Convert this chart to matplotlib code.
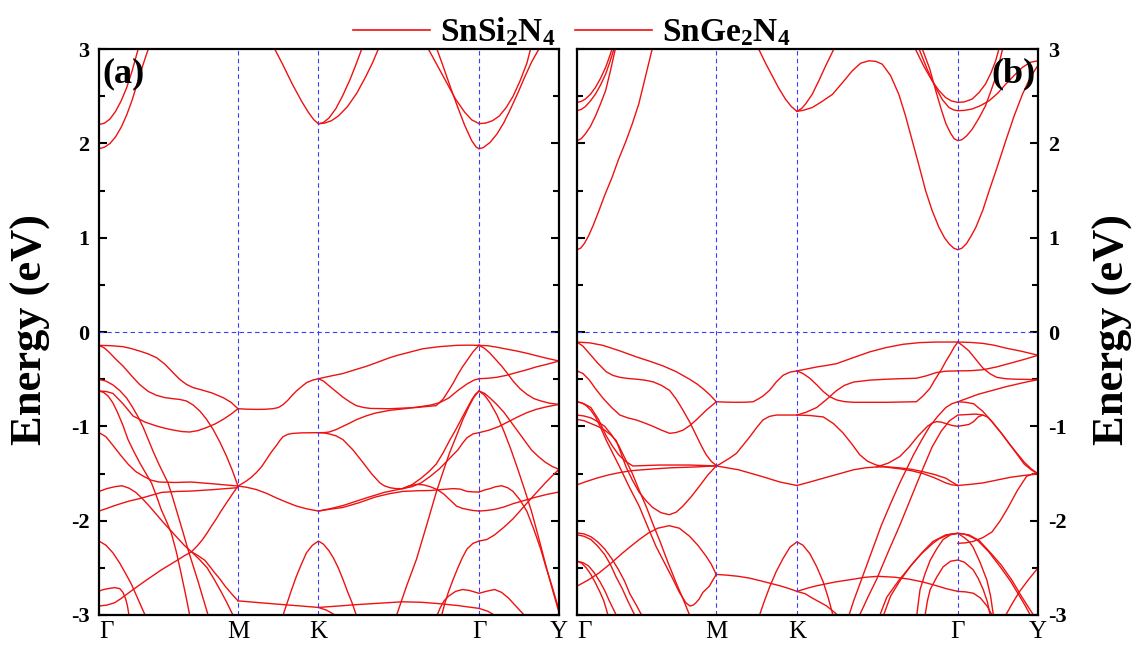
import numpy as np
import matplotlib.pyplot as plt
from matplotlib.lines import Line2D
from matplotlib.ticker import MultipleLocator

plt.rcParams['font.family'] = 'Liberation Serif'
plt.rcParams['mathtext.fontset'] = 'custom'
plt.rcParams['mathtext.rm'] = 'Liberation Serif'
plt.rcParams['mathtext.bf'] = 'Liberation Serif:bold'
plt.rcParams['axes.unicode_minus'] = False

# high-symmetry points along the path (fraction of path length)
kpts = [0.0, 0.302, 0.477, 0.826, 1.0]
klabels = ['Γ', 'M', 'K', 'Γ', 'Y']

# ---- (a) SnSi2N4 : bands as (k, E) ----
snsi_cond = [
    [(0, 2.20), (.012, 2.215), (.024, 2.26), (.036, 2.34), (.048, 2.45), (.060, 2.59),
     (.072, 2.77), (.085, 3.0)],
    [(0, 1.944), (.012, 1.96), (.024, 2.00), (.036, 2.07), (.048, 2.17), (.060, 2.30),
     (.072, 2.46), (.084, 2.65), (.096, 2.84), (.107, 3.0)],
    [(.382, 3.0), (.40, 2.83), (.42, 2.63), (.44, 2.45), (.455, 2.33), (.467, 2.25),
     (.477, 2.208)],
    [(.477, 2.208), (.487, 2.22), (.50, 2.27), (.515, 2.37), (.53, 2.51), (.545, 2.67),
     (.558, 2.83), (.571, 3.0)],
    [(.477, 2.208), (.49, 2.215), (.505, 2.24), (.52, 2.29), (.54, 2.39), (.56, 2.53),
     (.58, 2.71), (.595, 2.86), (.607, 3.0)],
    [(.716, 3.0), (.735, 2.83), (.755, 2.65), (.775, 2.47), (.795, 2.33), (.81, 2.25),
     (.826, 2.21)],
    [(.7345, 3.0), (.75, 2.79), (.765, 2.58), (.78, 2.38), (.795, 2.19), (.81, 2.03),
     (.82, 1.96), (.826, 1.944)],
    [(.826, 1.944), (.835, 1.955), (.85, 2.01), (.865, 2.10), (.88, 2.22), (.895, 2.37),
     (.91, 2.53), (.925, 2.70), (.94, 2.86), (.956, 3.0)],
    [(.826, 2.21), (.84, 2.215), (.855, 2.24), (.87, 2.29), (.885, 2.38), (.90, 2.50),
     (.915, 2.66), (.93, 2.85), (.938, 3.0)],
]

snsi_val = [
    # Gamma -> M
    [(0, -.141), (.026, -.145), (.052, -.155), (.07, -.175), (.088, -.201), (.107, -.232),
     (.125, -.272), (.143, -.34), (.161, -.431), (.175, -.50), (.190, -.555), (.205, -.59),
     (.219, -.608), (.245, -.645), (.270, -.696), (.287, -.745), (.302, -.813)],
    [(0, -.141), (.012, -.17), (.023, -.219), (.037, -.29), (.052, -.360), (.07, -.46),
     (.088, -.555), (.107, -.63), (.125, -.671), (.143, -.695), (.161, -.707), (.176, -.715),
     (.190, -.731), (.205, -.775), (.219, -.837), (.233, -.92), (.248, -1.032), (.262, -1.16),
     (.277, -1.315), (.29, -1.47), (.302, -1.633)],
    [(0, -.625), (.015, -.63), (.030, -.650), (.052, -.76), (.074, -.890), (.10, -.955),
     (.125, -.996), (.143, -1.02), (.161, -1.039), (.18, -1.055), (.197, -1.06), (.215, -1.045),
     (.233, -1.014), (.252, -.975), (.270, -.926), (.287, -.87), (.302, -.813)],
    [(0, -.502), (.015, -.52), (.03, -.56), (.045, -.62), (.06, -.70), (.072, -.79),
     (.085, -.90), (.096, -1.01), (.107, -1.14), (.118, -1.27), (.130, -1.40), (.140, -1.50),
     (.150, -1.60), (.161, -1.77), (.172, -1.95), (.183, -2.13), (.193, -2.30), (.204, -2.47),
     (.215, -2.64), (.226, -2.82), (.237, -3.0)],
    [(0, -.625), (.01, -.64), (.02, -.68), (.03, -.75), (.04, -.85), (.052, -.99),
     (.063, -1.14), (.076, -1.27), (.09, -1.40), (.102, -1.50), (.114, -1.60), (.125, -1.74),
     (.135, -1.88), (.146, -2.00), (.157, -2.13), (.168, -2.33), (.178, -2.55), (.188, -2.78),
     (.197, -3.0)],
    [(0, -1.067), (.015, -1.11), (.03, -1.20), (.046, -1.30), (.063, -1.40), (.08, -1.48),
     (.097, -1.53), (.113, -1.57), (.130, -1.59), (.165, -1.595), (.2, -1.59), (.25, -1.61),
     (.302, -1.633)],
    [(0, -1.69), (.017, -1.66), (.034, -1.64), (.05, -1.63), (.065, -1.655), (.08, -1.70),
     (.095, -1.77), (.11, -1.85), (.125, -1.935), (.14, -2.02), (.155, -2.10), (.17, -2.18),
     (.185, -2.26), (.201, -2.33), (.213, -2.27), (.225, -2.20), (.235, -2.13), (.244, -2.06),
     (.255, -1.98), (.265, -1.90), (.280, -1.79), (.291, -1.71), (.302, -1.633)],
    [(0, -1.898), (.017, -1.87), (.034, -1.84), (.05, -1.815), (.067, -1.79), (.085, -1.77),
     (.10, -1.75), (.118, -1.725), (.136, -1.70), (.17, -1.69), (.2, -1.686), (.25, -1.67),
     (.302, -1.65)],
    [(0, -2.905), (.017, -2.895), (.034, -2.87), (.048, -2.825), (.063, -2.77), (.08, -2.71),
     (.10, -2.64), (.118, -2.58), (.136, -2.52), (.153, -2.47), (.17, -2.42), (.186, -2.37),
     (.201, -2.33), (.215, -2.37), (.23, -2.42), (.24, -2.48), (.251, -2.55), (.263, -2.62),
     (.275, -2.70), (.289, -2.78), (.302, -2.85)],
    [(.201, -2.33), (.218, -2.41), (.235, -2.50), (.25, -2.62), (.265, -2.75), (.278, -2.87),
     (.291, -3.0)],
    [(0, -2.746), (.01, -2.73), (.02, -2.72), (.034, -2.71), (.045, -2.72), (.052, -2.76),
     (.058, -2.83), (.062, -2.91), (.065, -3.0)],
    [(0, -2.216), (.015, -2.26), (.03, -2.34), (.045, -2.45), (.06, -2.58), (.07, -2.67),
     (.08, -2.78), (.09, -2.89), (.10, -3.0)],
    # M -> K
    [(.302, -.813), (.322, -.818), (.342, -.820), (.36, -.819), (.378, -.813), (.39, -.80),
     (.40, -.77), (.41, -.725), (.42, -.67), (.429, -.625), (.44, -.58), (.451, -.537),
     (.464, -.51), (.477, -.495)],
    [(.302, -1.633), (.31, -1.61), (.32, -1.58), (.331, -1.54), (.342, -1.49), (.353, -1.43),
     (.364, -1.35), (.375, -1.27), (.386, -1.20), (.393, -1.15), (.40, -1.11), (.41, -1.085),
     (.42, -1.075), (.44, -1.069), (.477, -1.067)],
    [(.302, -1.633), (.32, -1.645), (.342, -1.67), (.364, -1.71), (.386, -1.76), (.408, -1.805),
     (.429, -1.845), (.452, -1.875), (.477, -1.898)],
    [(.302, -2.85), (.35, -2.87), (.40, -2.89), (.44, -2.905), (.477, -2.92)],
    [(.40, -3.0), (.407, -2.90), (.418, -2.74), (.429, -2.59), (.44, -2.46), (.451, -2.34),
     (.464, -2.26), (.477, -2.216), (.488, -2.25), (.50, -2.32), (.51, -2.40), (.52, -2.50),
     (.53, -2.62), (.54, -2.75), (.55, -2.87), (.559, -3.0)],
    [(.477, -2.92), (.495, -2.95), (.513, -3.0)],
    # K -> Gamma
    [(.477, -.495), (.50, -.47), (.53, -.44), (.559, -.396), (.58, -.365), (.60, -.33),
     (.632, -.272), (.65, -.245), (.67, -.22), (.704, -.177), (.74, -.155), (.777, -.141),
     (.80, -.139), (.826, -.141)],
    [(.477, -.495), (.488, -.52), (.50, -.57), (.515, -.63), (.53, -.69), (.545, -.74),
     (.559, -.78), (.575, -.80), (.59, -.81), (.632, -.813), (.69, -.80), (.733, -.78),
     (.748, -.71), (.76, -.62), (.77, -.54), (.78, -.45), (.79, -.37), (.80, -.30),
     (.813, -.21), (.826, -.141)],
    [(.477, -1.067), (.49, -1.066), (.50, -1.06), (.515, -1.035), (.53, -1.0), (.545, -.965),
     (.559, -.93), (.58, -.89), (.60, -.86), (.632, -.83), (.67, -.81), (.70, -.79),
     (.72, -.775), (.74, -.75), (.76, -.70), (.78, -.62), (.80, -.55), (.815, -.51),
     (.826, -.495)],
    [(.477, -1.067), (.49, -1.07), (.50, -1.08), (.515, -1.10), (.53, -1.14), (.552, -1.25),
     (.574, -1.385), (.592, -1.50), (.61, -1.597), (.62, -1.63), (.632, -1.65), (.645, -1.66),
     (.66, -1.66), (.68, -1.64), (.70, -1.60), (.72, -1.53), (.74, -1.45), (.76, -1.35),
     (.78, -1.25), (.79, -1.18), (.80, -1.12), (.813, -1.08), (.826, -1.067)],
    [(.477, -1.898), (.505, -1.87), (.53, -1.84), (.555, -1.80), (.58, -1.76), (.60, -1.73),
     (.62, -1.70), (.64, -1.68), (.66, -1.66), (.68, -1.62), (.70, -1.55), (.717, -1.48),
     (.733, -1.40), (.748, -1.28), (.762, -1.15), (.776, -1.03), (.79, -.90), (.80, -.81),
     (.81, -.72), (.818, -.66), (.826, -.625)],
    [(.647, -3.0), (.668, -2.70), (.69, -2.41), (.712, -2.05), (.733, -1.70), (.748, -1.48),
     (.762, -1.28), (.777, -1.10), (.791, -.926), (.805, -.78), (.815, -.69), (.826, -.625)],
    [(.477, -1.898), (.50, -1.88), (.53, -1.86), (.565, -1.81), (.60, -1.75), (.63, -1.715),
     (.66, -1.69), (.69, -1.683), (.72, -1.68), (.745, -1.67), (.77, -1.66), (.785, -1.665),
     (.80, -1.69), (.813, -1.695), (.826, -1.696)],
    [(.66, -1.66), (.675, -1.63), (.69, -1.615), (.705, -1.62), (.72, -1.64), (.735, -1.67),
     (.75, -1.72), (.765, -1.79), (.777, -1.845), (.79, -1.87), (.80, -1.88), (.813, -1.892),
     (.826, -1.898)],
    [(.477, -2.92), (.52, -2.905), (.56, -2.89), (.61, -2.875), (.66, -2.86), (.70, -2.865),
     (.74, -2.88), (.78, -2.90), (.826, -2.93)],
    [(.745, -3.0), (.752, -2.87), (.76, -2.75), (.77, -2.62), (.78, -2.50), (.79, -2.39),
     (.80, -2.30), (.813, -2.24), (.826, -2.216)],
    [(.735, -3.0), (.742, -2.92), (.75, -2.85), (.76, -2.80), (.775, -2.75), (.79, -2.73),
     (.805, -2.74), (.826, -2.77), (.845, -2.745), (.86, -2.73), (.875, -2.76), (.89, -2.82),
     (.905, -2.90), (.924, -3.0)],
    # Gamma -> Y
    [(.826, -.141), (.845, -.145), (.864, -.16), (.885, -.18), (.907, -.20), (.93, -.225),
     (.95, -.25), (.975, -.28), (1.0, -.307)],
    [(.826, -.141), (.837, -.17), (.849, -.22), (.862, -.29), (.875, -.36), (.888, -.44),
     (.90, -.52), (.915, -.60), (.93, -.66), (.945, -.705), (.96, -.73), (.98, -.755),
     (1.0, -.767)],
    [(.826, -.495), (.845, -.49), (.864, -.48), (.885, -.46), (.907, -.43), (.93, -.40),
     (.95, -.37), (.975, -.34), (1.0, -.307)],
    [(.826, -.625), (.838, -.65), (.85, -.70), (.865, -.77), (.88, -.85), (.895, -.95),
     (.91, -1.05), (.925, -1.15), (.94, -1.25), (.955, -1.32), (.97, -1.38), (.985, -1.425),
     (1.0, -1.456)],
    [(.826, -1.067), (.848, -1.04), (.87, -1.0), (.89, -.95), (.91, -.90), (.93, -.855),
     (.95, -.82), (.975, -.79), (1.0, -.767)],
    [(.826, -.625), (.838, -.67), (.85, -.75), (.865, -.88), (.88, -1.05), (.895, -1.24),
     (.91, -1.45), (.925, -1.67), (.94, -1.90), (.955, -2.17), (.97, -2.45), (.985, -2.72),
     (1.0, -2.975)],
    [(.826, -1.696), (.838, -1.675), (.85, -1.66), (.862, -1.64), (.875, -1.63), (.888, -1.65),
     (.90, -1.69), (.915, -1.78), (.93, -1.90), (.945, -2.09), (.96, -2.30), (.972, -2.50),
     (.985, -2.70), (1.0, -2.95)],
    [(.826, -1.898), (.843, -1.892), (.86, -1.88), (.88, -1.855), (.90, -1.82), (.925, -1.785),
     (.95, -1.75), (.975, -1.72), (1.0, -1.696)],
    [(.826, -2.216), (.843, -2.20), (.86, -2.15), (.88, -2.07), (.90, -1.98), (.92, -1.87),
     (.94, -1.76), (.955, -1.68), (.97, -1.60), (.985, -1.525), (1.0, -1.456)],
    [(.826, -2.93), (.845, -2.96), (.859, -3.0)],
]

# ---- (b) SnGe2N4 ----
snge_cond = [
    [(0, .872), (.008, .89), (.016, .94), (.025, 1.02), (.035, 1.13), (.047, 1.28),
     (.06, 1.45), (.076, 1.64), (.09, 1.83), (.105, 2.01), (.12, 2.21), (.134, 2.42),
     (.148, 2.70), (.163, 3.0)],
    [(0, 2.029), (.009, 2.05), (.018, 2.10), (.029, 2.18), (.04, 2.29), (.051, 2.42),
     (.062, 2.56), (.072, 2.76), (.083, 3.0)],
    [(0, 2.347), (.009, 2.36), (.018, 2.39), (.029, 2.45), (.04, 2.523), (.051, 2.62),
     (.062, 2.735), (.071, 2.86), (.080, 3.0)],
    [(0, 2.435), (.009, 2.445), (.018, 2.47), (.029, 2.52), (.04, 2.594), (.051, 2.69),
     (.062, 2.806), (.069, 2.90), (.076, 3.0)],
    [(.394, 3.0), (.41, 2.84), (.423, 2.72), (.437, 2.59), (.452, 2.47), (.465, 2.39),
     (.477, 2.34)],
    [(.477, 2.34), (.487, 2.37), (.496, 2.42), (.51, 2.52), (.525, 2.67), (.54, 2.83),
     (.557, 3.0)],
    [(.477, 2.34), (.49, 2.35), (.51, 2.38), (.53, 2.44), (.554, 2.52), (.575, 2.64),
     (.597, 2.77), (.615, 2.85), (.633, 2.876), (.648, 2.87), (.662, 2.84), (.68, 2.72),
     (.698, 2.52), (.712, 2.30), (.727, 2.03), (.742, 1.76), (.756, 1.50), (.77, 1.29),
     (.785, 1.11), (.797, 1.00), (.807, .935), (.817, .89), (.826, .872), (.835, .89),
     (.845, .94), (.855, 1.02), (.865, 1.11), (.88, 1.29), (.894, 1.50), (.91, 1.73),
     (.930, 2.03), (.948, 2.29), (.966, 2.52), (.983, 2.70), (1.0, 2.83)],
    [(.734, 3.0), (.752, 2.82), (.770, 2.665), (.785, 2.56), (.799, 2.488), (.812, 2.45),
     (.826, 2.435), (.84, 2.44), (.857, 2.47), (.872, 2.54), (.886, 2.63), (.898, 2.75),
     (.908, 2.876), (.915, 3.0)],
    [(.742, 3.0), (.76, 2.78), (.778, 2.59), (.793, 2.46), (.807, 2.38), (.817, 2.355),
     (.826, 2.347), (.84, 2.35), (.857, 2.365), (.875, 2.40), (.894, 2.453), (.912, 2.53),
     (.930, 2.629), (.948, 2.72), (.966, 2.806), (.983, 2.86), (1.0, 2.876)],
    [(.749, 3.0), (.765, 2.79), (.778, 2.56), (.79, 2.36), (.80, 2.21), (.81, 2.11),
     (.818, 2.05), (.826, 2.029), (.835, 2.04), (.845, 2.08), (.857, 2.15), (.872, 2.27),
     (.886, 2.40), (.898, 2.56), (.908, 2.70), (.923, 3.0)],
]

snge_val = [
    # Gamma -> M
    [(0, -.106), (.028, -.115), (.056, -.141), (.093, -.20), (.129, -.264), (.158, -.31),
     (.187, -.36), (.215, -.42), (.244, -.50), (.26, -.55), (.273, -.60), (.288, -.665),
     (.302, -.739)],
    [(0, -.106), (.013, -.15), (.027, -.229), (.045, -.33), (.063, -.42), (.078, -.46),
     (.093, -.48), (.11, -.492), (.129, -.50), (.147, -.51), (.165, -.528), (.183, -.565),
     (.201, -.62), (.215, -.71), (.230, -.83), (.245, -.96), (.259, -1.10), (.27, -1.21),
     (.280, -1.30), (.291, -1.37), (.302, -1.415)],
    [(0, -.412), (.013, -.44), (.027, -.511), (.04, -.60), (.056, -.70), (.075, -.80),
     (.093, -.880), (.11, -.91), (.129, -.933), (.147, -.965), (.165, -1.00), (.183, -1.04),
     (.201, -1.074), (.215, -1.065), (.230, -1.04), (.245, -.99), (.259, -.93), (.28, -.83),
     (.302, -.739)],
    [(0, -.739), (.01, -.75), (.02, -.78), (.03, -.83), (.04, -.90), (.052, -1.02),
     (.063, -1.144), (.078, -1.29), (.092, -1.426), (.113, -1.64), (.135, -1.849),
     (.153, -2.06), (.171, -2.27), (.19, -2.45), (.208, -2.62), (.222, -2.76), (.236, -2.87),
     (.245, -2.905), (.252, -2.895), (.258, -2.87), (.265, -2.83), (.273, -2.76),
     (.287, -2.694), (.302, -2.57)],
    [(0, -.739), (.015, -.76), (.03, -.80), (.047, -.93), (.063, -1.10), (.077, -1.21),
     (.09, -1.30), (.105, -1.37), (.121, -1.42), (.15, -1.415), (.179, -1.41), (.244, -1.41),
     (.302, -1.419)],
    [(0, -.88), (.015, -.89), (.03, -.91), (.045, -.95), (.06, -1.0), (.075, -1.09),
     (.09, -1.20), (.105, -1.35), (.12, -1.50), (.135, -1.68), (.15, -1.85), (.165, -2.04),
     (.18, -2.22), (.197, -2.44), (.215, -2.66), (.23, -2.83), (.244, -3.0)],
    [(0, -.926), (.015, -.94), (.03, -.97), (.045, -1.00), (.06, -1.04), (.073, -1.09),
     (.085, -1.15), (.095, -1.28), (.106, -1.426), (.12, -1.57), (.135, -1.70), (.15, -1.79),
     (.164, -1.86), (.182, -1.915), (.200, -1.937), (.215, -1.91), (.229, -1.849),
     (.247, -1.75), (.265, -1.637), (.283, -1.52), (.302, -1.419)],
    [(0, -1.62), (.02, -1.585), (.042, -1.55), (.068, -1.515), (.093, -1.49), (.118, -1.47),
     (.143, -1.46), (.17, -1.45), (.201, -1.44), (.23, -1.435), (.259, -1.43), (.302, -1.419)],
    [(0, -2.694), (.024, -2.63), (.048, -2.553), (.074, -2.45), (.099, -2.342), (.117, -2.27),
     (.135, -2.20), (.155, -2.13), (.175, -2.08), (.200, -2.053), (.222, -2.08),
     (.244, -2.165), (.262, -2.26), (.280, -2.377), (.291, -2.46), (.302, -2.57)],
    [(0, -2.13), (.015, -2.14), (.03, -2.17), (.045, -2.225), (.06, -2.30), (.075, -2.40),
     (.09, -2.52), (.103, -2.64), (.115, -2.78), (.128, -2.89), (.14, -3.0)],
    [(0, -2.15), (.015, -2.165), (.03, -2.20), (.045, -2.27), (.06, -2.36), (.073, -2.47),
     (.085, -2.60), (.098, -2.72), (.11, -2.85), (.125, -3.0)],
    [(0, -2.43), (.013, -2.445), (.025, -2.48), (.037, -2.55), (.05, -2.65), (.06, -2.74),
     (.07, -2.85), (.078, -2.93), (.085, -3.0)],
    [(0, -2.43), (.01, -2.45), (.02, -2.50), (.03, -2.57), (.04, -2.66), (.05, -2.76),
     (.058, -2.85), (.063, -2.93), (.067, -3.0)],
    # M -> K
    [(.302, -.739), (.324, -.743), (.346, -.745), (.365, -.744), (.382, -.739), (.393, -.71),
     (.403, -.68), (.41, -.65), (.418, -.616), (.432, -.53), (.447, -.458), (.462, -.425),
     (.477, -.412)],
    [(.302, -1.419), (.31, -1.40), (.32, -1.37), (.333, -1.33), (.346, -1.285), (.36, -1.20),
     (.375, -1.109), (.39, -1.01), (.403, -.933), (.417, -.895), (.432, -.880), (.455, -.88),
     (.477, -.880)],
    [(.302, -1.419), (.326, -1.44), (.35, -1.46), (.375, -1.495), (.40, -1.53), (.42, -1.56),
     (.44, -1.59), (.46, -1.61), (.477, -1.627)],
    [(.302, -2.57), (.326, -2.578), (.35, -2.59), (.375, -2.61), (.40, -2.64), (.42, -2.665),
     (.44, -2.69), (.46, -2.72), (.477, -2.75)],
    [(.396, -3.0), (.405, -2.87), (.418, -2.70), (.432, -2.54), (.447, -2.40), (.462, -2.28),
     (.477, -2.225), (.49, -2.26), (.505, -2.35), (.52, -2.49), (.534, -2.65), (.545, -2.82),
     (.555, -3.0)],
    [(.477, -2.75), (.495, -2.775), (.51, -2.82), (.525, -2.86), (.54, -2.90), (.553, -2.95),
     (.565, -3.0)],
    # K -> Gamma
    [(.477, -.412), (.50, -.39), (.52, -.37), (.54, -.355), (.563, -.335), (.6, -.27),
     (.635, -.21), (.67, -.165), (.707, -.13), (.743, -.112), (.779, -.106), (.826, -.106)],
    [(.477, -.412), (.49, -.44), (.505, -.49), (.52, -.56), (.534, -.63), (.548, -.685),
     (.563, -.72), (.58, -.738), (.60, -.745), (.671, -.745), (.736, -.739), (.75, -.68),
     (.765, -.60), (.777, -.50), (.79, -.40), (.80, -.31), (.81, -.23), (.818, -.16),
     (.826, -.106)],
    [(.477, -.880), (.497, -.85), (.52, -.80), (.54, -.72), (.563, -.62), (.58, -.565),
     (.60, -.53), (.635, -.51), (.671, -.50), (.70, -.495), (.736, -.49), (.757, -.465),
     (.779, -.43), (.80, -.415), (.826, -.412)],
    [(.477, -.880), (.505, -.885), (.534, -.90), (.556, -.97), (.577, -1.07), (.595, -1.18),
     (.613, -1.30), (.63, -1.37), (.649, -1.41), (.675, -1.435), (.70, -1.45), (.725, -1.47),
     (.75, -1.50), (.775, -1.545), (.80, -1.60), (.813, -1.62), (.826, -1.627)],
    [(.477, -1.627), (.505, -1.59), (.534, -1.55), (.567, -1.505), (.60, -1.46), (.625, -1.44),
     (.65, -1.43), (.675, -1.43), (.70, -1.44), (.725, -1.455), (.75, -1.48), (.775, -1.51),
     (.80, -1.55), (.813, -1.59), (.826, -1.627)],
    [(.59, -3.0), (.60, -2.85), (.615, -2.65), (.63, -2.45), (.645, -2.25), (.66, -2.05),
     (.68, -1.82), (.70, -1.60), (.715, -1.45), (.73, -1.30), (.748, -1.14), (.765, -1.00),
     (.783, -.89), (.80, -.80), (.813, -.76), (.826, -.739)],
    [(.613, -3.0), (.632, -2.80), (.65, -2.62), (.675, -2.33), (.70, -2.05), (.725, -1.75),
     (.75, -1.45), (.77, -1.22), (.79, -1.05), (.808, -.94), (.826, -.88), (.845, -.875),
     (.865, -.87), (.88, -.88)],
    [(.65, -1.43), (.675, -1.39), (.70, -1.32), (.72, -1.22), (.74, -1.10), (.76, -1.00),
     (.77, -.965), (.78, -.95), (.79, -.955), (.80, -.97), (.813, -.99), (.826, -1.0)],
    [(.477, -2.75), (.50, -2.715), (.52, -2.69), (.56, -2.65), (.60, -2.62), (.625, -2.60),
     (.653, -2.59), (.69, -2.60), (.72, -2.62), (.75, -2.65), (.78, -2.69), (.80, -2.72),
     (.826, -2.75)],
    [(.657, -3.0), (.672, -2.81), (.697, -2.64), (.722, -2.49), (.747, -2.35), (.772, -2.24),
     (.786, -2.19), (.80, -2.16), (.813, -2.14), (.826, -2.134), (.838, -2.14), (.85, -2.16),
     (.868, -2.205), (.893, -2.33), (.918, -2.49), (.94, -2.64), (.961, -2.81), (.972, -2.90),
     (.983, -3.0)],
    [(.665, -3.0), (.68, -2.80), (.70, -2.64), (.725, -2.47), (.75, -2.33), (.772, -2.22),
     (.80, -2.15), (.826, -2.134), (.85, -2.15), (.872, -2.21), (.895, -2.33), (.92, -2.47),
     (.943, -2.63), (.965, -2.81), (.978, -2.91), (.99, -3.0)],
    [(.737, -3.0), (.74, -2.88), (.744, -2.73), (.755, -2.56), (.766, -2.42), (.78, -2.30),
     (.794, -2.2), (.81, -2.15), (.826, -2.134), (.84, -2.18), (.85, -2.22), (.859, -2.28),
     (.874, -2.44), (.889, -2.63), (.897, -2.80), (.903, -3.0)],
    [(.755, -3.0), (.76, -2.85), (.766, -2.73), (.78, -2.60), (.794, -2.49), (.81, -2.43),
     (.826, -2.417), (.84, -2.44), (.859, -2.52), (.87, -2.61), (.881, -2.73), (.89, -2.86),
     (.896, -3.0)],
    # Gamma -> Y
    [(.826, -.106), (.853, -.11), (.88, -.12), (.905, -.14), (.93, -.17), (.965, -.205),
     (1.0, -.246)],
    [(.826, -.106), (.838, -.15), (.85, -.20), (.865, -.29), (.88, -.38), (.895, -.44),
     (.91, -.48), (.93, -.495), (.95, -.50), (1.0, -.504)],
    [(.826, -.412), (.853, -.41), (.88, -.40), (.91, -.37), (.94, -.33), (.97, -.29),
     (1.0, -.246)],
    [(.826, -.739), (.843, -.745), (.86, -.76), (.88, -.84), (.90, -.95), (.92, -1.07),
     (.94, -1.20), (.955, -1.30), (.97, -1.40), (.985, -1.46), (1.0, -1.504)],
    [(.826, -.739), (.848, -.70), (.87, -.66), (.90, -.62), (.93, -.58), (.965, -.54),
     (1.0, -.504)],
    [(.826, -1.0), (.838, -.99), (.85, -.98), (.86, -.95), (.87, -.90), (.88, -.88),
     (.89, -.90), (.90, -.95), (.92, -1.07), (.94, -1.20), (.955, -1.29), (.97, -1.38),
     (.985, -1.45), (1.0, -1.504)],
    [(.826, -1.627), (.853, -1.615), (.88, -1.60), (.91, -1.57), (.94, -1.54), (.97, -1.52),
     (1.0, -1.504)],
    [(.826, -2.24), (.843, -2.235), (.859, -2.22), (.88, -2.18), (.90, -2.12), (.918, -2.00),
     (.935, -1.86), (.955, -1.68), (.975, -1.53), (.99, -1.50), (1.0, -1.504)],
    [(.826, -2.75), (.843, -2.755), (.86, -2.77), (.875, -2.82), (.89, -2.91), (.90, -3.0)],
    [(.93, -3.0), (.945, -2.87), (.96, -2.75), (.98, -2.62), (1.0, -2.50)],
]

red = '#ee1111'
grid_blue = '#3b3bff'

fig = plt.figure(figsize=(11.37, 6.46), dpi=100)
ax_a = fig.add_axes([0.0871, 0.048, 0.4046, 0.876])
ax_b = fig.add_axes([0.5075, 0.048, 0.4055, 0.876])


def draw_panel(ax, cond, val, tag, tag_x, tag_ha, side):
    for band in cond + val:
        b = np.array(band)
        ax.plot(b[:, 0], b[:, 1], color=red, lw=1.0, solid_joinstyle='round')
    for k in kpts[1:-1]:
        ax.axvline(k, color=grid_blue, lw=0.8, ls=(0, (4, 3)))
    ax.axhline(0, color=grid_blue, lw=0.8, ls=(0, (4, 3)))
    ax.set_xlim(0, 1)
    ax.set_ylim(-3, 3)
    ax.set_xticks(kpts)
    ax.set_xticklabels(klabels, fontsize=18)
    ax.get_xticklabels()[0].set_horizontalalignment('left')
    ax.tick_params(axis='x', length=0, pad=4)
    ax.yaxis.set_major_locator(MultipleLocator(1))
    ax.yaxis.set_minor_locator(MultipleLocator(0.5))
    ax.tick_params(axis='y', which='both', direction='in', left=True, right=True,
                   width=1.5, labelsize=16, pad=7,
                   labelleft=(side == 'left'), labelright=(side == 'right'))
    ax.tick_params(axis='y', which='major', length=6)
    ax.tick_params(axis='y', which='minor', length=4)
    for lab in ax.get_yticklabels():
        lab.set_fontweight('bold')
    for s in ax.spines.values():
        s.set_linewidth(1.6)
    ax.text(tag_x, 0.985, tag, transform=ax.transAxes, ha=tag_ha, va='top',
            fontsize=26, fontweight='bold')


draw_panel(ax_a, snsi_cond, snsi_val, '(a)', 0.008, 'left', 'left')
draw_panel(ax_b, snge_cond, snge_val, '(b)', 0.995, 'right', 'right')

fig.text(0.027, 0.49, 'Energy (eV)', rotation=90, ha='center', va='center',
         fontsize=32, fontweight='bold')
fig.text(0.979, 0.49, 'Energy (eV)', rotation=90, ha='center', va='center',
         fontsize=32, fontweight='bold')

handles = [Line2D([], [], color=red, lw=1.2), Line2D([], [], color=red, lw=1.2)]
fig.legend(handles, [r'$\mathbf{SnSi_2N_4}$', r'$\mathbf{SnGe_2N_4}$'],
           loc='upper center', bbox_to_anchor=(0.503, 1.022), ncol=2, frameon=False,
           fontsize=24, handlelength=2.3, handletextpad=0.3, columnspacing=0.6)

fig.savefig('out.png', dpi=100)
